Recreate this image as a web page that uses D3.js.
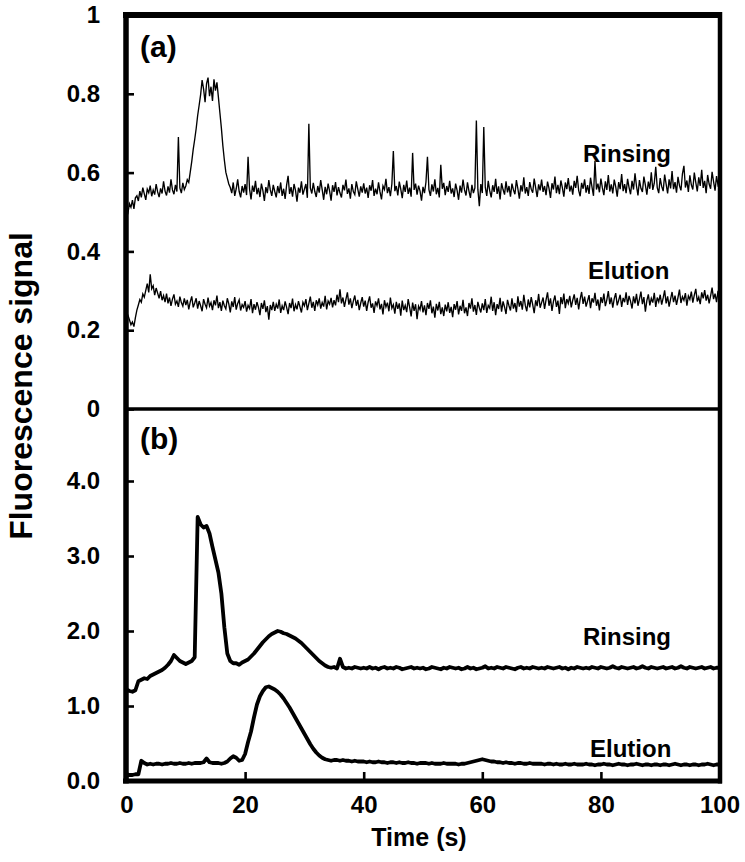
<!DOCTYPE html>
<html><head><meta charset="utf-8">
<script src="https://cdn.jsdelivr.net/npm/d3@7"></script>
<style>
body{margin:0;background:#fff}
svg{display:block}
text{font-family:"Liberation Sans",Arial,Helvetica,sans-serif;font-weight:bold;fill:#000}
</style>
</head><body>
<svg id="chart" width="745" height="862"></svg>
<script>
// ---------------- DATA ----------------
const xTicks = [0, 20, 40, 60, 80, 100];
const xTickLabels = ["0", "20", "40", "60", "80", "100"];
const yTicksA = [0, 0.2, 0.4, 0.6, 0.8, 1];
const yTickLabelsA = ["0", "0.2", "0.4", "0.6", "0.8", "1"];
const yTicksB = [0, 1, 2, 3, 4];
const yTickLabelsB = ["0.0", "1.0", "2.0", "3.0", "4.0"];
const sampleIntervalA = 0.25; // s
const sampleIntervalB = 0.5;  // s

// Panel (a) Rinsing
const rinsingA = [
0.505,0.498,0.521,0.512,0.530,0.508,0.536,0.541,0.528,0.553,0.537,0.562,0.546,0.531,0.558,0.549,0.567,0.540,0.556,0.544,
0.571,0.551,0.538,0.560,0.547,0.578,0.553,0.542,0.565,0.549,0.583,0.556,0.545,0.569,0.552,0.690,0.561,0.548,0.574,0.557,
0.566,0.582,0.575,0.601,0.628,0.659,0.684,0.712,0.745,0.771,0.798,0.835,0.812,0.779,0.826,0.841,0.794,0.818,0.782,0.837,
0.808,0.829,0.791,0.752,0.713,0.668,0.632,0.601,0.586,0.571,0.562,0.548,0.575,0.541,0.559,0.583,0.552,0.537,0.566,0.549,
0.571,0.543,0.640,0.558,0.532,0.567,0.551,0.579,0.545,0.561,0.538,0.572,0.554,0.528,0.563,0.548,0.581,0.556,0.541,0.569,
0.552,0.537,0.566,0.548,0.575,0.541,0.559,0.533,0.568,0.592,0.546,0.563,0.539,0.571,0.555,0.526,0.562,0.549,0.578,0.544,
0.558,0.571,0.536,0.724,0.561,0.547,0.574,0.552,0.538,0.566,0.549,0.581,0.557,0.531,0.564,0.545,0.572,0.553,0.529,0.568,
0.551,0.576,0.542,0.563,0.548,0.537,0.569,0.555,0.582,0.546,0.560,0.534,0.571,0.552,0.544,0.578,0.558,0.539,0.565,0.549,
0.573,0.547,0.562,0.536,0.568,0.554,0.581,0.541,0.559,0.545,0.575,0.551,0.532,0.566,0.557,0.584,0.548,0.563,0.540,0.571,
0.655,0.553,0.566,0.542,0.577,0.558,0.535,0.569,0.551,0.580,0.546,0.562,0.539,0.650,0.556,0.572,0.544,0.567,0.553,0.529,
0.564,0.548,0.576,0.640,0.557,0.541,0.570,0.552,0.583,0.545,0.561,0.537,0.620,0.559,0.574,0.543,0.566,0.551,0.579,0.547,
0.560,0.538,0.572,0.555,0.531,0.567,0.549,0.582,0.556,0.542,0.575,0.553,0.536,0.569,0.548,0.561,0.732,0.558,0.515,0.571,
0.548,0.716,0.563,0.541,0.579,0.554,0.537,0.568,0.551,0.584,0.546,0.565,0.532,0.573,0.557,0.544,0.578,0.550,0.566,0.539,
0.572,0.556,0.545,0.581,0.559,0.534,0.568,0.552,0.588,0.547,0.563,0.541,0.576,0.558,0.549,0.585,0.561,0.538,0.570,0.555,
0.582,0.551,0.566,0.543,0.577,0.560,0.536,0.573,0.557,0.590,0.548,0.569,0.545,0.580,0.562,0.539,0.575,0.558,0.586,0.552,
0.567,0.544,0.579,0.561,0.592,0.555,0.540,0.574,0.559,0.583,0.549,0.568,0.546,0.587,0.563,0.541,0.630,0.557,0.572,0.550,
0.585,0.561,0.543,0.578,0.556,0.594,0.552,0.570,0.547,0.582,0.564,0.539,0.576,0.558,0.596,0.553,0.571,0.548,0.584,0.562,
0.545,0.579,0.557,0.598,0.566,0.542,0.581,0.560,0.551,0.590,0.568,0.544,0.577,0.559,0.601,0.556,0.573,0.615,0.562,0.548,
0.586,0.565,0.553,0.595,0.571,0.547,0.583,0.560,0.604,0.558,0.576,0.549,0.589,0.567,0.555,0.597,0.617,0.562,0.580,0.551,
0.593,0.569,0.557,0.600,0.575,0.552,0.588,0.566,0.607,0.561,0.579,0.548,0.594,0.571,0.559,0.602,0.577,0.554,0.591,0.568,0.575
];

// Panel (a) Elution
const elutionA = [
0.245,0.238,0.226,0.214,0.221,0.209,0.232,0.251,0.264,0.278,0.271,0.292,0.284,0.301,0.318,0.296,0.342,0.305,0.313,0.289,
0.307,0.294,0.281,0.299,0.276,0.288,0.271,0.293,0.268,0.283,0.262,0.279,0.291,0.266,0.274,0.259,0.285,0.270,0.261,0.281,
0.264,0.277,0.253,0.272,0.286,0.258,0.269,0.281,0.255,0.274,0.262,0.248,0.279,0.266,0.257,0.283,0.261,0.270,0.251,0.276,
0.263,0.288,0.256,0.271,0.249,0.275,0.262,0.254,0.281,0.267,0.245,0.273,0.259,0.284,0.252,0.268,0.277,0.250,0.265,0.258,
0.274,0.247,0.263,0.255,0.279,0.243,0.266,0.252,0.271,0.258,0.238,0.269,0.254,0.276,0.246,0.261,0.227,0.264,0.251,0.272,
0.249,0.266,0.255,0.278,0.244,0.262,0.251,0.273,0.258,0.241,0.269,0.256,0.280,0.248,0.265,0.253,0.274,0.259,0.245,0.271,
0.262,0.279,0.251,0.268,0.285,0.257,0.272,0.249,0.276,0.264,0.281,0.255,0.270,0.260,0.287,0.253,0.274,0.266,0.282,0.258,
0.276,0.263,0.290,0.271,0.304,0.268,0.283,0.259,0.278,0.296,0.265,0.281,0.256,0.274,0.288,0.262,0.277,0.251,0.269,0.284,
0.260,0.275,0.249,0.271,0.286,0.257,0.268,0.244,0.273,0.262,0.281,0.253,0.267,0.240,0.276,0.259,0.270,0.248,0.283,0.256,
0.265,0.242,0.272,0.254,0.268,0.237,0.275,0.251,0.263,0.246,0.279,0.258,0.235,0.270,0.249,0.266,0.228,0.261,0.252,0.274,
0.245,0.263,0.238,0.269,0.254,0.276,0.243,0.260,0.232,0.267,0.250,0.272,0.241,0.258,0.236,0.265,0.248,0.271,0.244,0.259,
0.233,0.266,0.252,0.274,0.240,0.262,0.249,0.277,0.243,0.258,0.236,0.269,0.255,0.281,0.247,0.264,0.239,0.272,0.257,0.245,
0.268,0.251,0.279,0.244,0.263,0.256,0.285,0.249,0.271,0.238,0.266,0.254,0.282,0.247,0.273,0.259,0.241,0.277,0.262,0.250,
0.281,0.255,0.269,0.246,0.286,0.260,0.274,0.252,0.290,0.263,0.248,0.278,0.258,0.284,0.265,0.243,0.276,0.261,0.292,0.257,
0.270,0.283,0.254,0.277,0.296,0.262,0.281,0.249,0.273,0.288,0.259,0.275,0.241,0.284,0.266,0.293,0.256,0.279,0.268,0.287,
0.258,0.276,0.291,0.264,0.282,0.253,0.279,0.297,0.267,0.285,0.260,0.274,0.289,0.256,0.281,0.270,0.295,0.262,0.278,0.250,
0.284,0.269,0.293,0.261,0.277,0.299,0.266,0.283,0.257,0.280,0.294,0.263,0.276,0.290,0.259,0.282,0.271,0.296,0.264,0.287,
0.273,0.255,0.286,0.268,0.292,0.262,0.279,0.298,0.266,0.284,0.247,0.275,0.291,0.263,0.281,0.270,0.295,0.259,0.283,0.272,
0.290,0.265,0.282,0.301,0.268,0.286,0.260,0.279,0.297,0.271,0.288,0.264,0.283,0.303,0.269,0.285,0.276,0.294,0.262,0.287,
0.278,0.298,0.270,0.289,0.305,0.273,0.284,0.266,0.296,0.281,0.302,0.275,0.290,0.268,0.287,0.308,0.279,0.293,0.271,0.300,0.285
];

// Panel (b) Rinsing
const rinsingB = [
1.22,1.20,1.19,1.21,1.33,1.35,1.37,1.36,1.40,1.42,1.44,1.46,1.48,1.51,1.55,1.60,1.68,1.64,1.60,1.58,
1.56,1.58,1.60,1.65,3.52,3.42,3.38,3.40,3.30,3.12,2.95,2.78,2.50,2.05,1.70,1.60,1.57,1.57,1.55,1.58,
1.60,1.62,1.66,1.70,1.75,1.80,1.85,1.89,1.93,1.96,1.98,2.00,1.99,1.97,1.96,1.94,1.92,1.90,1.87,1.84,
1.80,1.76,1.72,1.68,1.64,1.60,1.57,1.54,1.52,1.51,1.52,1.50,1.63,1.52,1.50,1.51,1.50,1.52,1.51,1.50,
1.51,1.50,1.52,1.50,1.51,1.49,1.51,1.52,1.50,1.51,1.50,1.52,1.51,1.49,1.50,1.51,1.52,1.50,1.51,1.50,
1.51,1.49,1.50,1.52,1.51,1.50,1.49,1.51,1.50,1.52,1.51,1.50,1.51,1.49,1.50,1.52,1.50,1.51,1.49,1.50,
1.51,1.53,1.50,1.51,1.50,1.52,1.51,1.50,1.52,1.51,1.50,1.49,1.51,1.52,1.50,1.51,1.50,1.52,1.51,1.50,
1.51,1.50,1.52,1.51,1.50,1.51,1.52,1.50,1.51,1.49,1.51,1.50,1.52,1.51,1.50,1.51,1.50,1.52,1.51,1.50,
1.52,1.51,1.50,1.51,1.53,1.51,1.50,1.52,1.51,1.50,1.51,1.52,1.50,1.51,1.53,1.51,1.50,1.52,1.51,1.50,
1.51,1.52,1.50,1.51,1.52,1.50,1.51,1.53,1.51,1.50,1.52,1.51,1.50,1.51,1.52,1.50,1.51,1.52,1.50,1.51,1.51
];

// Panel (b) Elution
const elutionB = [
0.08,0.08,0.08,0.09,0.09,0.27,0.24,0.22,0.23,0.22,0.23,0.23,0.22,0.23,0.23,0.24,0.23,0.23,0.24,0.23,
0.23,0.24,0.23,0.24,0.24,0.24,0.25,0.30,0.25,0.24,0.24,0.24,0.23,0.24,0.26,0.30,0.33,0.31,0.27,0.28,
0.36,0.52,0.66,0.85,1.02,1.13,1.20,1.25,1.26,1.24,1.22,1.19,1.15,1.10,1.04,0.98,0.91,0.84,0.77,0.70,
0.63,0.56,0.49,0.43,0.38,0.34,0.31,0.29,0.28,0.27,0.28,0.28,0.27,0.28,0.27,0.27,0.26,0.27,0.26,0.26,
0.26,0.25,0.26,0.25,0.25,0.26,0.25,0.25,0.24,0.25,0.25,0.24,0.25,0.24,0.24,0.25,0.24,0.24,0.23,0.24,
0.24,0.24,0.23,0.24,0.23,0.23,0.23,0.24,0.23,0.23,0.23,0.23,0.22,0.23,0.23,0.24,0.25,0.26,0.27,0.28,
0.29,0.28,0.27,0.26,0.26,0.25,0.25,0.24,0.25,0.24,0.24,0.23,0.24,0.24,0.23,0.23,0.24,0.23,0.23,0.23,
0.23,0.22,0.23,0.23,0.22,0.23,0.22,0.22,0.23,0.22,0.22,0.23,0.22,0.22,0.22,0.23,0.22,0.22,0.21,0.22,
0.22,0.23,0.22,0.22,0.21,0.22,0.23,0.22,0.22,0.21,0.22,0.22,0.23,0.22,0.21,0.22,0.22,0.21,0.22,0.22,
0.21,0.22,0.22,0.21,0.22,0.23,0.22,0.21,0.22,0.22,0.21,0.22,0.22,0.21,0.22,0.22,0.23,0.22,0.21,0.22,0.22
];

const seriesLabels = ["Rinsing", "Elution"];
const panelLabels = ["(a)", "(b)"];

// ---------------- CHART ----------------
const svg = d3.select("#chart");
const L = 126, R = 720, T = 15, MID = 409, B = 781;

const x = d3.scaleLinear().domain([0, 100]).range([L + 0.5, R - 0.5]);
const yA = d3.scaleLinear().domain([0, 1]).range([MID, T]);
const yB = d3.scaleLinear().domain([0, 4.96]).range([B, MID]);

// series lines
const lineA = d3.line().x((d, i) => x(i * sampleIntervalA)).y(d => yA(d));
const lineB = d3.line().x((d, i) => x(i * sampleIntervalB)).y(d => yB(d));

[rinsingA, elutionA].forEach(s => {
  svg.append("path").datum(s).attr("d", lineA)
    .attr("fill", "none").attr("stroke", "#000").attr("stroke-width", 1.35)
    .attr("stroke-linejoin", "miter");
});
[rinsingB, elutionB].forEach(s => {
  svg.append("path").datum(s).attr("d", lineB)
    .attr("fill", "none").attr("stroke", "#000").attr("stroke-width", 3.8)
    .attr("stroke-linejoin", "round").attr("stroke-linecap", "round");
});

// axes
function styleAxis(g) {
  g.select(".domain").remove();
  g.selectAll(".tick line").attr("stroke", "#000").attr("stroke-width", 2.6);
  g.selectAll(".tick text").style("font-size", "24px").style("font-weight", "bold")
    .style("font-family", '"Liberation Sans",Arial,sans-serif').attr("fill", "#000");
}
const axA = svg.append("g").attr("transform", `translate(${L},0)`)
  .call(d3.axisLeft(yA).tickValues(yTicksA).tickSize(-8).tickPadding(26)
    .tickFormat((d, i) => yTickLabelsA[i]));
styleAxis(axA);
const axB = svg.append("g").attr("transform", `translate(${L},0)`)
  .call(d3.axisLeft(yB).tickValues(yTicksB).tickSize(-8).tickPadding(26)
    .tickFormat((d, i) => yTickLabelsB[i]));
styleAxis(axB);
const axX = svg.append("g").attr("transform", `translate(0,${B})`)
  .call(d3.axisBottom(x).tickValues(xTicks).tickSize(-9).tickPadding(15)
    .tickFormat((d, i) => xTickLabels[i]));
styleAxis(axX);

// frame
svg.append("line").attr("x1", L - 3).attr("x2", R + 2).attr("y1", T).attr("y2", T).attr("stroke", "#000").attr("stroke-width", 6);
svg.append("line").attr("x1", L - 3).attr("x2", R + 2).attr("y1", B).attr("y2", B).attr("stroke", "#000").attr("stroke-width", 5);
svg.append("line").attr("x1", L).attr("x2", L).attr("y1", T - 3).attr("y2", B + 2.5).attr("stroke", "#000").attr("stroke-width", 5.5);
svg.append("line").attr("x1", R).attr("x2", R).attr("y1", T - 3).attr("y2", B + 2.5).attr("stroke", "#000").attr("stroke-width", 4.5);
svg.append("line").attr("x1", L).attr("x2", R).attr("y1", MID).attr("y2", MID).attr("stroke", "#000").attr("stroke-width", 3.5);

// text labels
function label(t, px, py, size) {
  svg.append("text").attr("x", px).attr("y", py).style("font-size", size + "px").text(t);
}
label(panelLabels[0], 140, 57, 30);
label(panelLabels[1], 140, 449, 30);
label(seriesLabels[0], 583, 162, 24);
label(seriesLabels[1], 588, 279, 24);
label(seriesLabels[0], 583, 645, 24);
label(seriesLabels[1], 590, 757, 24);

svg.append("text").attr("x", 419).attr("y", 846).attr("text-anchor", "middle")
  .style("font-size", "25px").text("Time (s)");
svg.append("text").attr("transform", "translate(32,386) rotate(-90)").attr("text-anchor", "middle")
  .style("font-size", "32px").text("Fluorescence signal");
</script>
</body></html>
